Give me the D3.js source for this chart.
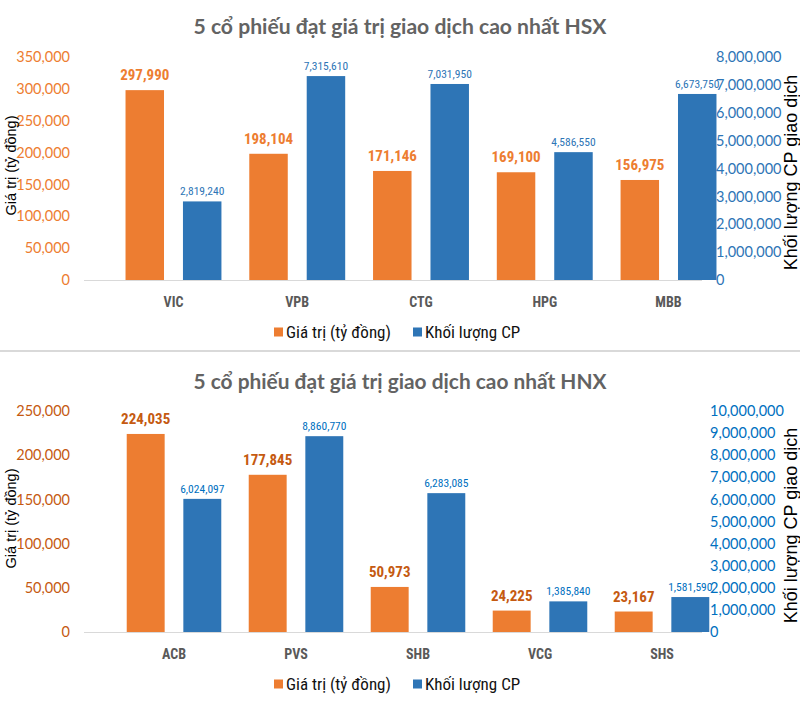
<!DOCTYPE html>
<html><head><meta charset="utf-8">
<script src="https://cdn.jsdelivr.net/npm/d3@7/dist/d3.min.js"></script>
<style>
body{margin:0;background:#fff;}
svg{display:block;}
.narrow{font-family:"Liberation Sans Narrow","Arial Narrow","Roboto Condensed",sans-serif;}
</style></head>
<body>
<svg id="chart" width="800" height="728"></svg>
<script>
// ---- data ----
const hsxCategories = ["VIC","VPB","CTG","HPG","MBB"];
const hsxValue = [297990,198104,171146,169100,156975];
const hsxVolume = [2819240,7315610,7031950,4586550,6673750];
const hsxValueTicks = [0,50000,100000,150000,200000,250000,300000,350000];
const hsxVolumeTicks = [0,1000000,2000000,3000000,4000000,5000000,6000000,7000000,8000000];

const hnxCategories = ["ACB","PVS","SHB","VCG","SHS"];
const hnxValue = [224035,177845,50973,24225,23167];
const hnxVolume = [6024097,8860770,6283085,1385840,1581590];
const hnxValueTicks = [0,50000,100000,150000,200000,250000];
const hnxVolumeTicks = [0,1000000,2000000,3000000,4000000,5000000,6000000,7000000,8000000,9000000,10000000];

const seriesNames = ["Giá trị (tỷ đồng)","Khối lượng CP"];
const leftTitle = "Giá trị (tỷ đồng)";
const rightTitle = "Khối lượng CP giao dịch";

const svg = d3.select("#chart");
const fmt = d3.format(",");
const ORANGE = "#ED7D31", BLUE = "#2E75B6";

function drawChart(o){
  const g = svg.append("g");
  // title
  g.append("text").attr("x",400).attr("y",o.titleY).attr("text-anchor","middle")
    .attr("font-family","Lato, 'Open Sans', sans-serif").attr("font-weight","bold")
    .attr("font-size",21).attr("fill","#636363")
    .attr("textLength",413).attr("lengthAdjust","spacingAndGlyphs")
    .text(o.title);

  const yL = d3.scaleLinear().domain([0,d3.max(o.leftTicks)]).range([o.bottom,o.top]);
  const yR = d3.scaleLinear().domain([0,d3.max(o.rightTicks)]).range([o.bottom,o.top]);
  const x0 = d3.scaleBand().domain(o.cats).range(o.xRange).paddingInner(0.225).paddingOuter(0.1125);
  const x1 = d3.scaleBand().domain([0,1]).range([0,x0.bandwidth()]).paddingInner(0.33);

  // baseline
  g.append("line").attr("x1",84).attr("x2",702).attr("y1",o.bottom+0.5).attr("y2",o.bottom+0.5)
    .attr("stroke","#d9d9d9").attr("stroke-width",1.2);

  // left axis
  const la = g.append("g").attr("transform",`translate(70,0)`)
    .call(d3.axisLeft(yL).tickValues(o.leftTicks).tickFormat(fmt).tickSize(0).tickPadding(0));
  la.select(".domain").remove();
  la.selectAll("text").attr("font-family","Lato, 'Open Sans', sans-serif").attr("font-size",14.5)
    .attr("fill",o.leftTickColor);

  // right axis
  const ra = g.append("g").attr("transform",`translate(${o.rightX},0)`)
    .call(d3.axisRight(yR).tickValues(o.rightTicks).tickFormat(fmt).tickSize(0).tickPadding(0));
  ra.select(".domain").remove();
  ra.selectAll("text").attr("font-family","Lato, 'Open Sans', sans-serif").attr("font-size",14.5)
    .attr("fill",o.rightTickColor);

  // category axis
  const ca = g.append("g").attr("transform",`translate(0,${o.bottom})`)
    .call(d3.axisBottom(x0).tickSize(0).tickPadding(17));
  ca.select(".domain").remove();
  ca.selectAll("text").attr("class","narrow").attr("font-weight","bold").attr("font-size",14)
    .attr("fill","#595959").attr("font-family",null);

  // bars
  const grp = g.selectAll(".grp").data(o.cats).enter().append("g")
    .attr("transform",d=>`translate(${x0(d)},0)`);
  grp.append("rect").attr("x",x1(0)).attr("width",x1.bandwidth())
    .attr("y",(d,i)=>yL(o.left[i])).attr("height",(d,i)=>o.bottom-yL(o.left[i])).attr("fill",ORANGE);
  grp.append("rect").attr("x",x1(1)).attr("width",x1.bandwidth())
    .attr("y",(d,i)=>yR(o.right[i])).attr("height",(d,i)=>o.bottom-yR(o.right[i])).attr("fill",BLUE);
  grp.append("text").attr("class","narrow").attr("x",x1(0)+x1.bandwidth()/2)
    .attr("y",(d,i)=>yL(o.left[i])-10).attr("text-anchor","middle")
    .attr("font-weight","bold").attr("font-size",15).attr("fill",o.leftLabelColor)
    .text((d,i)=>fmt(o.left[i]));
  grp.append("text").attr("class","narrow").attr("x",x1(1)+x1.bandwidth()/2)
    .attr("y",(d,i)=>yR(o.right[i])-6).attr("text-anchor","middle")
    .attr("font-size",11.5).attr("fill",o.rightLabelColor)
    .text((d,i)=>fmt(o.right[i]));

  // axis titles
  const mid = (o.top+o.bottom)/2;
  g.append("text").attr("transform",`translate(16,${mid - 3}) rotate(-90)`).attr("text-anchor","middle")
    .attr("font-family","'Liberation Sans', Arial, sans-serif").attr("font-size",14.5).attr("fill","#000")
    .text(leftTitle);
  g.append("text").attr("transform",`translate(797,${mid + 4}) rotate(-90)`).attr("text-anchor","middle")
    .attr("font-family","'Liberation Sans', Arial, sans-serif").attr("font-size",18).attr("fill","#000")
    .text(rightTitle);

  // legend
  const lg = g.append("g").attr("transform",`translate(0,${o.legendY})`);
  const items = [{x:274,c:ORANGE,t:seriesNames[0]},{x:413,c:BLUE,t:seriesNames[1]}];
  items.forEach(it=>{
    lg.append("rect").attr("x",it.x).attr("y",-4.5).attr("width",9).attr("height",9).attr("fill",it.c);
    lg.append("text").attr("class","narrow").attr("x",it.x+12).attr("y",0).attr("dy","0.35em")
      .attr("font-size",17).attr("fill","#111").text(it.t);
  });
}

drawChart({title:"5 cổ phiếu đạt giá trị giao dịch cao nhất HSX",titleY:34,top:57,bottom:280,
  xRange:[111.6,730.4],rightX:716,cats:hsxCategories,left:hsxValue,right:hsxVolume,
  leftTicks:hsxValueTicks,rightTicks:hsxVolumeTicks,legendY:332,
  leftTickColor:"#ED7D31",rightTickColor:"#2E75B6",leftLabelColor:"#ED7D31",rightLabelColor:"#2E75B6"});

svg.append("line").attr("x1",0).attr("x2",800).attr("y1",351).attr("y2",351)
  .attr("stroke","#d9d9d9").attr("stroke-width",2);

drawChart({title:"5 cổ phiếu đạt giá trị giao dịch cao nhất HNX",titleY:389,top:411,bottom:632,
  xRange:[113,723],rightX:710,cats:hnxCategories,left:hnxValue,right:hnxVolume,
  leftTicks:hnxValueTicks,rightTicks:hnxVolumeTicks,legendY:684,
  leftTickColor:"#C55A11",rightTickColor:"#0070C0",leftLabelColor:"#C55A11",rightLabelColor:"#0070C0"});
</script>
</body></html>
